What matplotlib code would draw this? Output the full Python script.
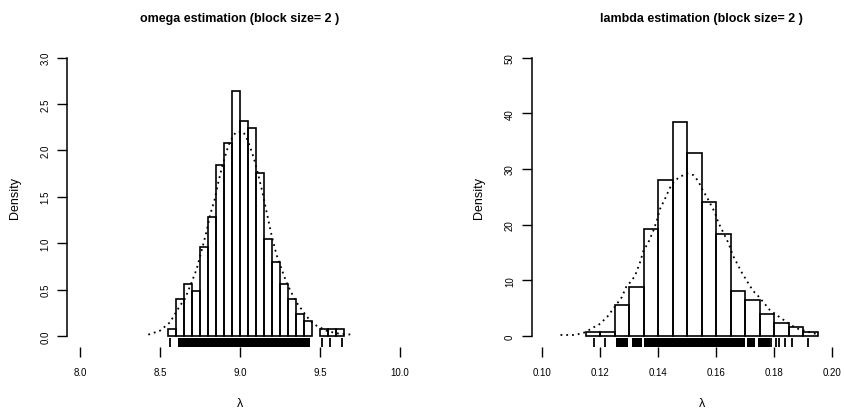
import matplotlib
matplotlib.use("Agg")
import matplotlib.pyplot as plt
import numpy as np

plt.rcParams['font.family'] = ['Liberation Sans', 'DejaVu Sans']

# ---------------- data: omega panel ----------------
omega_bin_left = [8.55, 8.60, 8.65, 8.70, 8.75, 8.80, 8.85, 8.90, 8.95, 9.00,
                  9.05, 9.10, 9.15, 9.20, 9.25, 9.30, 9.35, 9.40, 9.50, 9.55, 9.60]
omega_density = [0.08, 0.40, 0.56, 0.48, 0.96, 1.28, 1.84, 2.08, 2.64, 2.32,
                 2.24, 1.76, 1.04, 0.80, 0.56, 0.40, 0.24, 0.16, 0.08, 0.08, 0.08]
omega_binwidth = 0.05
omega_kde_x = [8.427, 8.50, 8.5625, 8.625, 8.656, 8.698, 8.729, 8.76, 8.79, 8.8125,
               8.84, 8.865, 8.885, 8.906, 8.927, 8.958, 8.979, 9.02, 9.04, 9.0625,
               9.0875, 9.115, 9.14, 9.167, 9.198, 9.229, 9.26, 9.29, 9.32, 9.354,
               9.396, 9.4375, 9.479, 9.54, 9.60, 9.698]
omega_kde_y = [0.014, 0.057, 0.147, 0.327, 0.40, 0.58, 0.72, 0.92, 1.12, 1.30,
               1.46, 1.66, 1.80, 1.93, 2.05, 2.16, 2.20, 2.20, 2.14, 2.04,
               1.91, 1.73, 1.55, 1.33, 1.08, 0.87, 0.72, 0.58, 0.47, 0.36,
               0.26, 0.165, 0.11, 0.057, 0.029, 0.014]
omega_rug_single = [8.5625, 9.51, 9.5625, 9.635]
omega_rug_dense = [(8.614, 9.4375)]
omega_xticks = [8.0, 8.5, 9.0, 9.5, 10.0]
omega_xticklabels = ["8.0", "8.5", "9.0", "9.5", "10.0"]
omega_yticks = [0.0, 0.5, 1.0, 1.5, 2.0, 2.5, 3.0]
omega_yticklabels = ["0.0", "0.5", "1.0", "1.5", "2.0", "2.5", "3.0"]

# ---------------- data: lambda panel ----------------
lambda_bin_left = [0.115, 0.120, 0.125, 0.130, 0.135, 0.140, 0.145, 0.150, 0.155,
                   0.160, 0.165, 0.170, 0.175, 0.180, 0.185, 0.190]
lambda_density = [0.8, 0.8, 5.6, 8.8, 19.2, 28.0, 38.4, 32.8, 24.0,
                  18.4, 8.0, 6.4, 4.0, 2.4, 1.6, 0.8]
lambda_binwidth = 0.005
lambda_kde_x = [0.1063, 0.1114, 0.1148, 0.1177, 0.1194, 0.1223, 0.1234, 0.1274, 0.1291,
                0.1303, 0.1320, 0.1337, 0.1349, 0.1366, 0.1383, 0.1395, 0.1406, 0.1423,
                0.1435, 0.1446, 0.1469, 0.1498, 0.1521, 0.1538, 0.1555, 0.1566, 0.1595,
                0.1607, 0.1624, 0.1641, 0.1658, 0.1689, 0.1710, 0.1727, 0.1744, 0.1773,
                0.1784, 0.1819, 0.1836, 0.1858, 0.1876, 0.1904, 0.1922, 0.1944]
lambda_kde_y = [0.18, 0.18, 0.66, 1.55, 1.97, 3.35, 4.12, 6.93, 9.0,
                9.6, 10.8, 13.2, 15.3, 16.8, 18.9, 20.7, 22.8, 24.6,
                26.0, 27.2, 28.4, 29.2, 28.9, 27.8, 26.0, 25.1, 22.2,
                20.4, 18.6, 16.8, 14.4, 11.3, 9.5, 8.1, 7.2, 5.4,
                4.7, 3.35, 2.75, 1.97, 1.38, 0.95, 0.66, 0.36]
lambda_rug_single = [0.1177, 0.1217, 0.1790, 0.1805, 0.1816, 0.1836, 0.1862, 0.1916]
lambda_rug_dense = [(0.1254, 0.1294), (0.1310, 0.1343), (0.1352, 0.1698),
                    (0.1706, 0.1733), (0.1744, 0.1784)]
lambda_xticks = [0.10, 0.12, 0.14, 0.16, 0.18, 0.20]
lambda_xticklabels = ["0.10", "0.12", "0.14", "0.16", "0.18", "0.20"]
lambda_yticks = [0, 10, 20, 30, 40, 50]
lambda_yticklabels = ["0", "10", "20", "30", "40", "50"]

W, H = 844, 410
fig = plt.figure(figsize=(W / 100, H / 100), dpi=100)

def px_axes(x0, x1, ytop, ybot):
    return fig.add_axes([x0 / W, (H - ybot) / H, (x1 - x0) / W, (ybot - ytop) / H])

ax1 = px_axes(67.2, 412.8, 47.4, 348.1)
ax2 = px_axes(531.5, 872.0, 47.4, 348.1)

def draw(ax, left, dens, bw, kx, ky, rs, rd, xt, xtl, yt, ytl, xlim, ylim, title, ylab_x):
    ax.bar(left, dens, width=bw, align='edge', fill=False, edgecolor='black', linewidth=1.2)
    ax.plot(kx, ky, linestyle=(0, (1, 2.2)), color='black', linewidth=1.3)
    tr = ax.get_xaxis_transform()
    ax.vlines(rs, 0, 0.03, transform=tr, color='black', linewidth=1.3)
    for a, b in rd:
        ax.fill_between([a, b], [0, 0], [0.03, 0.03], transform=tr, color='black', linewidth=0)
    ax.set_xlim(*xlim)
    ax.set_ylim(*ylim)
    for s in ['top', 'right', 'bottom']:
        ax.spines[s].set_visible(False)
    ax.spines['left'].set_bounds(yt[0], yt[-1])
    ax.spines['left'].set_linewidth(1.1)
    ax.set_xticks(xt)
    ax.set_xticklabels(xtl, fontsize=7)
    ax.set_yticks(yt)
    ax.set_yticklabels(ytl, fontsize=7, rotation=90, va='center')
    ax.tick_params(axis='x', length=7, width=1.0, pad=7.5)
    ax.tick_params(axis='y', length=7, width=1.0, pad=5)
    ax.set_title(title, fontsize=9, fontweight='bold', pad=18)
    ax.set_ylabel("Density", fontsize=9)
    ax.yaxis.set_label_coords(ylab_x, 0.5)
    ax.set_xlabel("λ", fontsize=9)
    ax.xaxis.set_label_coords(0.5, -0.165)
    ax.patch.set_visible(False)

draw(ax1, omega_bin_left, omega_density, omega_binwidth, omega_kde_x, omega_kde_y,
     omega_rug_single, omega_rug_dense, omega_xticks, omega_xticklabels,
     omega_yticks, omega_yticklabels, (7.92, 10.08), (-0.12, 3.12),
     "omega estimation (block size= 2 )", -0.133)
draw(ax2, lambda_bin_left, lambda_density, lambda_binwidth, lambda_kde_x, lambda_kde_y,
     lambda_rug_single, lambda_rug_dense, lambda_xticks, lambda_xticklabels,
     lambda_yticks, lambda_yticklabels, (0.0963, 0.2137), (-2, 52),
     "lambda estimation (block size= 2 )", -0.136)

fig.savefig("out.png", dpi=100)
